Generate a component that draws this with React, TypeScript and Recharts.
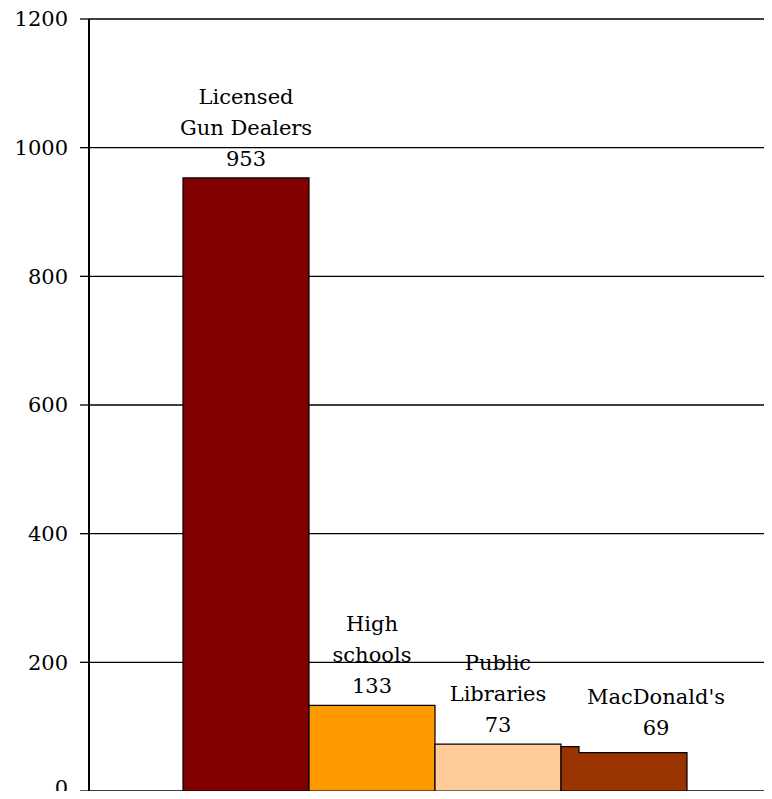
import { Bar, BarChart, CartesianGrid, LabelList, XAxis, YAxis } from 'recharts';

const categories = [''];
const seriesKeys = ['gun', 'school', 'library', 'mcd'];
const seriesLabels = [['Licensed', 'Gun Dealers'], ['High', 'schools'], ['Public', 'Libraries'], ["MacDonald's"]];
const seriesValues = [953, 133, 73, 69];
const seriesColors = ['#800000', '#FF9900', '#FFCC99', '#993300'];
const yTicks = [0, 200, 400, 600, 800, 1000, 1200];

const data = categories.map((name) => {
  const row: Record<string, string | number> = { name };
  seriesKeys.forEach((k, i) => (row[k] = seriesValues[i]));
  return row;
});

const font = '"DejaVu Serif", serif';

function makeLabel(lines: string[], dx: number) {
  return (props: any) => {
    const { x, y, width, value } = props;
    const cx = x + width / 2 + dx;
    const all = [...lines, String(value)];
    const lineH = 31;
    const baseY = y - 12;
    return (
      <text textAnchor="middle" fontFamily={font} fontSize={21} fill="#000">
        {all.map((t, i) => (
          <tspan key={i} x={cx} y={baseY - (all.length - 1 - i) * lineH}>
            {t}
          </tspan>
        ))}
      </text>
    );
  };
}

// y tick; the bottom one is nudged up so it stays inside the frame
const YTick = (props: any) => {
  const { x, y, payload } = props;
  const shift = payload.value === 0 ? -3 : 0;
  return (
    <text x={x} y={y + shift} dy="0.355em" textAnchor="end" fontFamily={font} fontSize={21} fill="#000">
      {payload.value}
    </text>
  );
};

// last bar in the original has a little step at the left edge
const SteppedBar = (props: any) => {
  const { x, y, width, height, fill } = props;
  const b = y + height;
  const d = `M${x},${b} L${x},${y} L${x + 18},${y} L${x + 18},${y + 6} L${x + width},${y + 6} L${x + width},${b} Z`;
  return <path d={d} fill={fill} stroke="#000" strokeWidth={1.2} />;
};

export default function App() {
  return (
    <div style={{ margin: -8, width: 772, height: 799, overflow: 'hidden', background: '#fff' }}>
      <BarChart
        width={790}
        height={799}
        data={data}
        margin={{ top: 19, right: 8, bottom: 8, left: 0 }}
        barGap={0}
        barCategoryGap={94}
      >
        <CartesianGrid stroke="#000" strokeWidth={1.3} vertical={false} />
        <XAxis dataKey="name" hide />
        <YAxis
          width={89}
          domain={[0, 1200]}
          ticks={yTicks}
          interval={0}
          axisLine={{ stroke: '#000', strokeWidth: 2 }}
          tickLine={{ stroke: '#000', strokeWidth: 1.3 }}
          tickSize={9}
          tickMargin={12}
          tick={<YTick />}
        />
        {seriesKeys.map((k, i) => (
          <Bar
            key={k}
            dataKey={k}
            fill={seriesColors[i]}
            stroke="#000"
            strokeWidth={1.2}
            isAnimationActive={false}
            shape={i === 3 ? SteppedBar : undefined}
          >
            <LabelList dataKey={k} content={makeLabel(seriesLabels[i], i === 3 ? 32 : 0)} />
          </Bar>
        ))}
      </BarChart>
    </div>
  );
}
